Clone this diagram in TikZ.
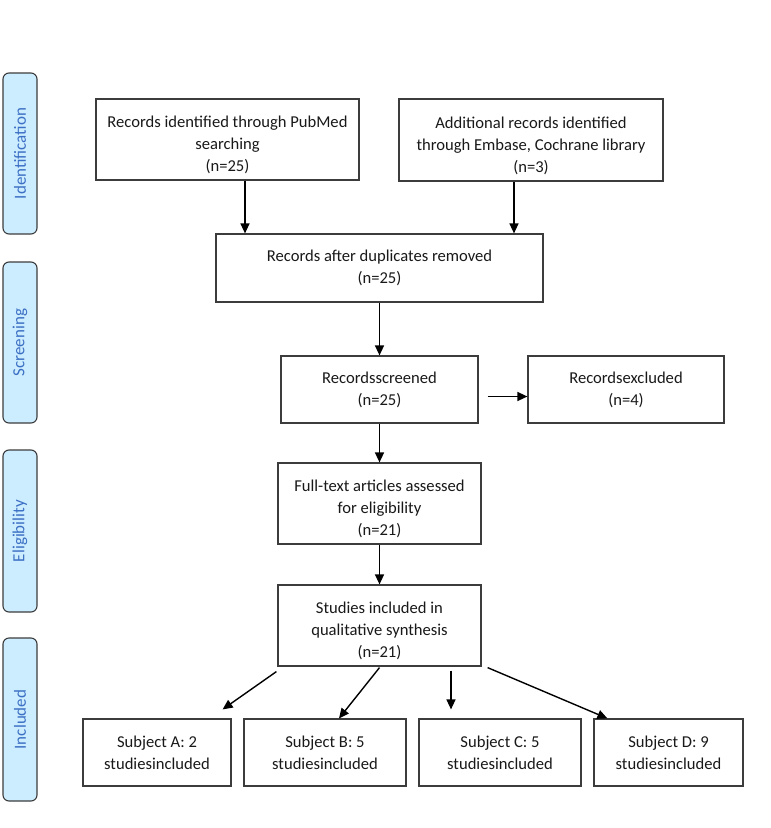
\documentclass[tikz,border=0pt]{standalone}
\usepackage{fontspec}
\setmainfont{Carlito}
\usetikzlibrary{arrows.meta,calc}
\definecolor{sidefill}{RGB}{204,236,255}
\definecolor{sidetext}{RGB}{60,112,196}
\definecolor{boxline}{RGB}{60,60,60}
\newcommand{\lowtxt}[1]{\raisebox{-6pt}[\height][\depth]{\begin{tabular}{@{}c@{}}#1\end{tabular}}}
\begin{document}
\begin{tikzpicture}[x=1pt,y=-1pt,
  font=\fontsize{16.6}{22}\selectfont,
  box/.style={draw=boxline, line width=1.2pt, fill=white, align=center, inner sep=0pt, text=black!90},
  side/.style={draw=boxline, fill=sidefill, rounded corners=6pt, line width=1.1pt, minimum height=34pt, inner sep=0pt, text=sidetext, rotate=90, font=\fontsize{17}{20}\selectfont},
  arr/.style={-{Triangle[length=10pt,width=9pt]}, line width=1.4pt, black}]
\useasboundingbox (0,0) rectangle (771,828);

% phase bars
\node[side, minimum width=161pt] (sid) at (20,153.5) {Identification};
\node[side, minimum width=161pt] (sscr) at (20,342.5) {Screening};
\node[side, minimum width=162pt] (selig) at (20,531) {Eligibility};
\node[side, minimum width=163pt] (sinc) at (20,719.5) {Included};

% boxes
\node[box, minimum width=263pt, minimum height=81pt] (pub) at (227.5,139.5) {\lowtxt{Records identified through PubMed\\searching\\(n=25)}};
\node[box, minimum width=264pt, minimum height=82pt] (add) at (531,140) {\lowtxt{Additional records identified\\through Embase, Cochrane library\\(n=3)}};
\node[box, minimum width=327pt, minimum height=68pt] (dup) at (379.5,268) {Records after duplicates removed\\(n=25)};
\node[box, minimum width=197pt, minimum height=67pt] (scr) at (379.5,389.5) {Recordsscreened\\(n=25)};
\node[box, minimum width=196pt, minimum height=67pt] (exc) at (626,389.5) {Recordsexcluded\\(n=4)};
\node[box, minimum width=203pt, minimum height=81pt] (full) at (379.5,503.5) {\lowtxt{Full-text articles assessed\\for eligibility\\(n=21)}};
\node[box, minimum width=203pt, minimum height=81pt] (stu) at (379.5,625.5) {\lowtxt{Studies included in\\qualitative synthesis\\(n=21)}};
\node[box, minimum width=148pt, minimum height=67pt] (sa) at (157,752.5) {Subject A: 2\\studiesincluded};
\node[box, minimum width=162pt, minimum height=67pt] (sb) at (325,752.5) {Subject B: 5\\studiesincluded};
\node[box, minimum width=162pt, minimum height=67pt] (sc) at (500,752.5) {Subject C: 5\\studiesincluded};
\node[box, minimum width=149pt, minimum height=67pt] (sd) at (668.5,752.5) {Subject D: 9\\studiesincluded};

% connectors
\coordinate (xa) at (245,0);
\coordinate (xb) at (514,0);
\draw[arr] (xa |- pub.south) -- (xa |- dup.north);
\draw[arr] (xb |- add.south) -- (xb |- dup.north);
\draw[arr] (dup.south) -- (scr.north);
\draw[arr, shorten <=9pt] ([yshift=-7pt]scr.east) -- ([yshift=-7pt]exc.west);
\draw[arr] (scr.south) -- (full.north);
\draw[arr] (full.south) -- (stu.north);
\draw[arr] ([shift={(-1,5)}]stu.south west) -- ([shift={(-9,-9)}]sa.north east);
\draw[arr] ([shift={(0,1)}]stu.south) -- ([shift={(14,0)}]sb.north);
\draw[arr] ([shift={(71.5,4)}]stu.south) -- ([shift={(-49,-9)}]sc.north);
\draw[arr] ([shift={(6,1)}]stu.south east) -- ([shift={(14,0)}]sd.north west);
\end{tikzpicture}
\end{document}
